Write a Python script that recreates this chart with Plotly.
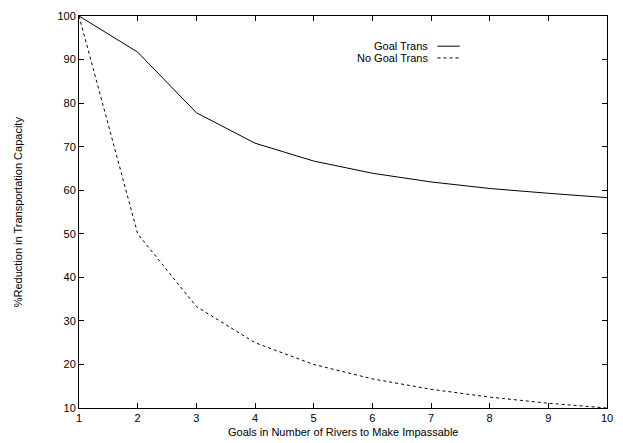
import plotly.graph_objects as go

x_vals = [1, 2, 3, 4, 5, 6, 7, 8, 9, 10]
goal_trans = [100, 91.7, 77.8, 70.8, 66.7, 63.9, 61.9, 60.4, 59.3, 58.3]
no_goal_trans = [100, 50, 33.3, 25, 20, 16.7, 14.3, 12.5, 11.1, 10]
x_ticks = [1, 2, 3, 4, 5, 6, 7, 8, 9, 10]
y_ticks = [10, 20, 30, 40, 50, 60, 70, 80, 90, 100]
series_names = ["Goal Trans", "No Goal Trans"]

FONT = "Liberation Sans, Arial, Helvetica, sans-serif"

fig = go.Figure()
fig.add_trace(go.Scatter(x=x_vals, y=goal_trans, mode="lines", name=series_names[0],
                         line=dict(color="black", width=1), showlegend=False))
fig.add_trace(go.Scatter(x=x_vals, y=no_goal_trans, mode="lines", name=series_names[1],
                         line=dict(color="black", width=1, dash="3px,3px"), showlegend=False))

# manual gnuplot-style legend: text left, sample right
leg_y = [0.923, 0.893]
dashes = ["solid", "3px,3px"]
for name, yy, d in zip(series_names, leg_y, dashes):
    fig.add_annotation(x=0.664, y=yy, xref="paper", yref="paper", text=name,
                       showarrow=False, xanchor="right", yanchor="middle",
                       font=dict(size=11, color="black", family=FONT))
    fig.add_shape(type="line", xref="paper", yref="paper", x0=0.679, x1=0.721, y0=yy, y1=yy,
                  line=dict(color="black", width=1, dash=d))

fig.add_annotation(x=0.5, y=-0.06, xref="paper", yref="paper",
                   text="Goals in Number of Rivers to Make Impassable", showarrow=False,
                   xanchor="center", yanchor="middle", font=dict(size=11, color="black", family=FONT))
fig.add_annotation(x=-0.115, y=0.5, xref="paper", yref="paper",
                   text="%Reduction in Transportation Capacity", showarrow=False, textangle=-90,
                   xanchor="center", yanchor="middle", font=dict(size=11, color="black", family=FONT))

axis_common = dict(showgrid=False, zeroline=False, showline=True, linecolor="black", linewidth=1,
                   mirror="ticks", ticks="inside", ticklen=5, tickcolor="black", tickwidth=1,
                   tickfont=dict(size=11, color="black", family=FONT))
fig.update_xaxes(range=[1, 10], tickvals=x_ticks, **axis_common)
fig.update_yaxes(range=[10, 100], tickvals=y_ticks, **axis_common)

fig.update_layout(width=623, height=443, margin=dict(l=79, r=14, t=10, b=35),
                  paper_bgcolor="white", plot_bgcolor="white",
                  font=dict(family=FONT, size=11, color="black"))

fig.write_html("out.html", config={"displayModeBar": False})

# remove default body margin so the figure sits at the page origin
with open("out.html", "r", encoding="utf-8") as f:
    html = f.read()
html = html.replace("<head>", "<head><style>html,body{margin:0;padding:0;overflow:hidden;}</style>", 1)
with open("out.html", "w", encoding="utf-8") as f:
    f.write(html)
